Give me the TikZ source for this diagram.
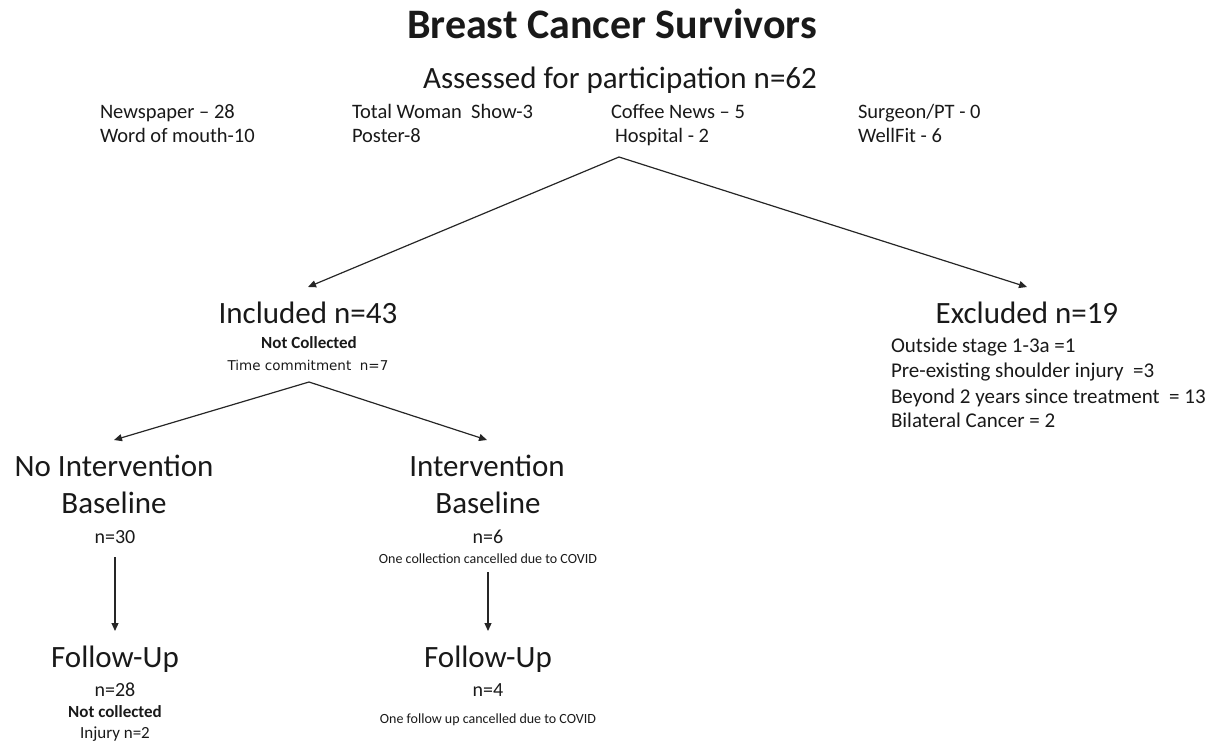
\documentclass[tikz,border=0pt]{standalone}
\usepackage{fontspec}
\setmainfont{Carlito}
\newfontfamily\widefont{DejaVu Sans}
\usetikzlibrary{arrows.meta}

\begin{document}
\begin{tikzpicture}[x=1pt,y=-1pt,
  every node/.style={inner sep=0pt,outer sep=0pt,text=black!90},
  titletext/.style={anchor=base,font=\fontsize{42}{42}\selectfont\bfseries},
  headtext/.style={anchor=base,font=\fontsize{31}{31}\selectfont,
    text height=22pt,inner ysep=14pt},
  srctext/.style={anchor=base west,font=\fontsize{20.5}{20.5}\selectfont},
  counttext/.style={anchor=base,font=\fontsize{20}{20}\selectfont,
    text depth=5pt,inner ysep=9pt},
  reasonbold/.style={anchor=base,font=\fontsize{17}{17}\selectfont\bfseries},
  reasontext/.style={anchor=base,font=\fontsize{17}{17}\selectfont},
  covidnote/.style={anchor=base,font=\fontsize{14}{14}\selectfont,
    text depth=3pt,inner ysep=6pt},
  exclitem/.style={anchor=base west,font=\fontsize{21}{21}\selectfont},
  flow/.style={draw=black!85,line width=1.2pt,
    -{Triangle[length=8pt,width=7pt]}}
]
\useasboundingbox (0,0) rectangle (1208,745);

% title and screening
\node[titletext] (title) at (612,38) {Breast Cancer Survivors};
\node[headtext] (assess) at (620,88) {Assessed for participation n=62};

% recruitment sources
\node[srctext] (src1) at (100,118) {Newspaper – 28};
\node[srctext] (src2) at (352,118) {Total Woman\ \ Show-3};
\node[srctext] (src3) at (611,118) {Coffee News – 5};
\node[srctext] (src4) at (858,118) {Surgeon/PT - 0};
\node[srctext] (src5) at (100,142) {Word of mouth-10};
\node[srctext] (src6) at (352,142) {Poster-8};
\node[srctext] (src7) at (615,142) {Hospital - 2};
\node[srctext] (src8) at (858,142) {WellFit - 6};
\coordinate (split1) at (619,157);

% included branch
\node[headtext] (inc) at (308,323) {Included n=43};
\node[reasonbold] (incnc) at (309,348) {Not Collected};
\node[reasontext,font=\widefont\fontsize{13.5}{13.5}\selectfont] (inctc) at (308,370) {Time commitment\ \ n=7};
\coordinate (split2) at (309,382);

% excluded branch
\node[headtext] (exc) at (1027,323) {Excluded n=19};
\node[exclitem] (ex1) at (891,352) {Outside stage 1-3a =1};
\node[exclitem] (ex2) at (891,377) {Pre-existing shoulder injury\ \ =3};
\node[exclitem] (ex3) at (891,403) {Beyond 2 years since treatment\ \ = 13};
\node[exclitem] (ex4) at (891,427) {Bilateral Cancer = 2};

% no intervention group
\node[headtext] (noint) at (114,476) {No Intervention};
\node[anchor=base,font=\fontsize{31}{31}\selectfont] (nobase) at (114,513) {Baseline};
\node[counttext] (non) at (115,543) {n=30};
\node[headtext] (nofu) at (115,667) {Follow-Up};
\node[anchor=base,font=\fontsize{20}{20}\selectfont] (nofun) at (115,696) {n=28};
\node[reasonbold] (nofunc) at (115,717) {Not collected};
\node[reasontext] (nofuinj) at (115,738) {Injury n=2};

% intervention group
\node[headtext] (int) at (487,476) {Intervention};
\node[anchor=base,font=\fontsize{31}{31}\selectfont] (intbase) at (488,513) {Baseline};
\node[anchor=base,font=\fontsize{20}{20}\selectfont] (intn) at (488,543) {n=6};
\node[covidnote] (intcov) at (488,563) {One collection cancelled due to COVID};
\node[headtext] (intfu) at (488,667) {Follow-Up};
\node[anchor=base,font=\fontsize{20}{20}\selectfont] (intfun) at (488,696) {n=4};
\node[anchor=base,font=\fontsize{14}{14}\selectfont] (intfucov) at (488,723) {One follow up cancelled due to COVID};

% connectors
\draw[flow] (split1) -- (inc.north);
\draw[flow] (split1) -- (exc.north);
\draw[flow] (split2) -- (noint.north);
\draw[flow] (split2) -- (int.north);
\draw[flow] (non.south) -- (nofu.north);
\draw[flow] (intcov.south) -- (intfu.north);
\end{tikzpicture}
\end{document}
